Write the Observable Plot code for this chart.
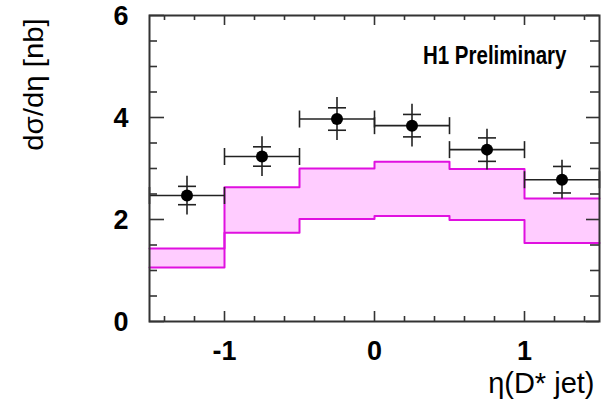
<!DOCTYPE html>
<html>
<head>
<meta charset="utf-8">
<script src="https://cdn.jsdelivr.net/npm/d3@7"></script>
<script src="https://cdn.jsdelivr.net/npm/@observablehq/plot@0.6"></script>
<style>
  html, body { margin: 0; padding: 0; background: #fff; }
  #chart { width: 604px; height: 407px; }
</style>
</head>
<body>
<div id="chart"></div>
<script>
// ---- data ----
const binLow    = [-1.5, -1.0, -0.5, 0.0, 0.5, 1.0];
const binHigh   = [-1.0, -0.5,  0.0, 0.5, 1.0, 1.5];
const etaCenter = [-1.25, -0.75, -0.25, 0.25, 0.75, 1.25];
const dataValue = [2.47, 3.235, 3.97, 3.84, 3.37, 2.78];
const statError = [0.18, 0.19, 0.22, 0.22, 0.23, 0.26];
const totError  = [0.38, 0.39, 0.42, 0.42, 0.40, 0.38];
const theoryUpper = [1.43, 2.63, 3.00, 3.13, 2.99, 2.41];
const theoryLower = [1.06, 1.74, 2.01, 2.07, 1.99, 1.54];

const xMajorTicks = [-1, 0, 1];
const xMinorTicks = [-1.4, -1.2, -0.8, -0.6, -0.4, -0.2, 0.2, 0.4, 0.6, 0.8, 1.2, 1.4];
const yMajorTicks = [0, 2, 4, 6];
const yMinorTicks = [0.5, 1, 1.5, 2.5, 3, 3.5, 4.5, 5, 5.5];

const yTitle = "dσ/dη [nb]";
const xTitle = "η(D* jet)";
const tag = "H1 Preliminary";

// ---- tables built from the arrays ----
const points = etaCenter.map((c, i) => ({
  c, lo: binLow[i], hi: binHigh[i], v: dataValue[i],
  s1: dataValue[i] - statError[i], s2: dataValue[i] + statError[i],
  t1: dataValue[i] - totError[i], t2: dataValue[i] + totError[i]
}));
const bins = binLow.map((lo, i) => ({lo, hi: binHigh[i], up: theoryUpper[i], dn: theoryLower[i]}));
const edges = binLow.concat([binHigh[binHigh.length - 1]]);
const upperSteps = edges.map((e, i) => ({x: e, y: theoryUpper[Math.min(i, theoryUpper.length - 1)]}));
const lowerSteps = edges.map((e, i) => ({x: e, y: theoryLower[Math.min(i, theoryLower.length - 1)]}));

// custom symbols for error-bar caps
const capV = {draw(ctx) { ctx.moveTo(0, -8.5); ctx.lineTo(0, 8.5); }};
const capH = {draw(ctx) { ctx.moveTo(-9, 0); ctx.lineTo(9, 0); }};

const W = 604, H = 407, mL = 149, mR = 5, mT = 15, mB = 86;
const iw = W - mL - mR, ih = H - mT - mB;
const axisColor = "#333";
const magenta = "#e010e0";
const errColor = "#222";

const chart = Plot.plot({
  width: W, height: H,
  marginLeft: mL, marginRight: mR, marginTop: mT, marginBottom: mB,
  x: {domain: [-1.5, 1.5]},
  y: {domain: [0, 6]},
  style: {fontFamily: "'Liberation Sans', Arial, sans-serif", background: "#fff", color: "#000"},
  marks: [
    // theory band
    Plot.rect(bins, {x1: "lo", x2: "hi", y1: "dn", y2: "up", fill: "#ffccff"}),
    Plot.line(upperSteps, {x: "x", y: "y", curve: "step-after", stroke: magenta, strokeWidth: 2}),
    Plot.line(lowerSteps, {x: "x", y: "y", curve: "step-after", stroke: magenta, strokeWidth: 2}),
    // data error bars
    Plot.ruleY(points, {y: "v", x1: "lo", x2: "hi", stroke: errColor, strokeWidth: 1.6}),
    Plot.ruleX(points, {x: "c", y1: "t1", y2: "t2", stroke: errColor, strokeWidth: 1.6}),
    Plot.dot(points, {x: "lo", y: "v", symbol: capV, fill: "none", stroke: errColor, strokeWidth: 1.6}),
    Plot.dot(points, {x: "hi", y: "v", symbol: capV, fill: "none", stroke: errColor, strokeWidth: 1.6}),
    Plot.dot(points, {x: "c", y: "s1", symbol: capH, fill: "none", stroke: errColor, strokeWidth: 1.6}),
    Plot.dot(points, {x: "c", y: "s2", symbol: capH, fill: "none", stroke: errColor, strokeWidth: 1.6}),
    Plot.dot(points, {x: "c", y: "v", r: 6, fill: "#000"}),
    // frame and inward ticks
    Plot.frame({stroke: axisColor, strokeWidth: 2}),
    Plot.ruleX(xMajorTicks, {x: d => d, insetTop: ih - 10, stroke: axisColor, strokeWidth: 1.6}),
    Plot.ruleX(xMajorTicks, {x: d => d, insetBottom: ih - 10, stroke: axisColor, strokeWidth: 1.6}),
    Plot.ruleX(xMinorTicks, {x: d => d, insetTop: ih - 5, stroke: axisColor, strokeWidth: 1.6}),
    Plot.ruleX(xMinorTicks, {x: d => d, insetBottom: ih - 5, stroke: axisColor, strokeWidth: 1.6}),
    Plot.ruleY(yMajorTicks, {y: d => d, insetRight: iw - 15, stroke: axisColor, strokeWidth: 1.6}),
    Plot.ruleY(yMajorTicks, {y: d => d, insetLeft: iw - 13, stroke: axisColor, strokeWidth: 1.6}),
    Plot.ruleY(yMinorTicks, {y: d => d, insetRight: iw - 8, stroke: axisColor, strokeWidth: 1.6}),
    Plot.ruleY(yMinorTicks, {y: d => d, insetLeft: iw - 9, stroke: axisColor, strokeWidth: 1.6}),
    // tick labels
    Plot.axisX({ticks: xMajorTicks, tickSize: 0, tickPadding: 19, tickFormat: d => String(d),
      fontSize: 27, fontWeight: "bold", label: null}),
    Plot.axisY({ticks: yMajorTicks, tickSize: 0, tickPadding: 21, tickFormat: d => String(d),
      fontSize: 27, fontWeight: "bold", label: null}),
    // titles
    Plot.text([yTitle], {frameAnchor: "top-left", text: d => d, rotate: -90, textAnchor: "middle",
      dx: -126, dy: 69, fontSize: 28}),
    Plot.text([xTitle], {frameAnchor: "bottom-right", text: d => d, textAnchor: "end", lineAnchor: "bottom",
      dx: -5, dy: 71, fontSize: 29}),
    Plot.text([tag], {frameAnchor: "top-right", text: d => d, textAnchor: "end", lineAnchor: "bottom",
      dx: -33, dy: 47, fontSize: 20.5, fontWeight: "bold"})
  ]
});
document.getElementById("chart").append(chart);

// The reference image is slightly stretched vertically: stretch each text about its centre.
const svgRect = chart.getBoundingClientRect();
d3.select(chart).selectAll("text").each(function() {
  const s = this.textContent;
  const sy = s === tag ? 1.22 : s === yTitle ? 1.05 : s === xTitle ? 1.0 : 1.05;
  if (sy === 1) return;
  const r = this.getBoundingClientRect();
  const pt = chart.createSVGPoint();
  pt.x = r.x + r.width / 2 - svgRect.x;
  pt.y = r.y + r.height / 2 - svgRect.y;
  const parent = this.parentNode;
  const m = parent.getCTM();
  const p = m ? pt.matrixTransform(m.inverse()) : pt;
  const g = document.createElementNS("http://www.w3.org/2000/svg", "g");
  g.setAttribute("transform", `translate(${p.x},${p.y}) scale(1,${sy}) translate(${-p.x},${-p.y})`);
  parent.insertBefore(g, this);
  g.appendChild(this);
});
</script>
</body>
</html>
